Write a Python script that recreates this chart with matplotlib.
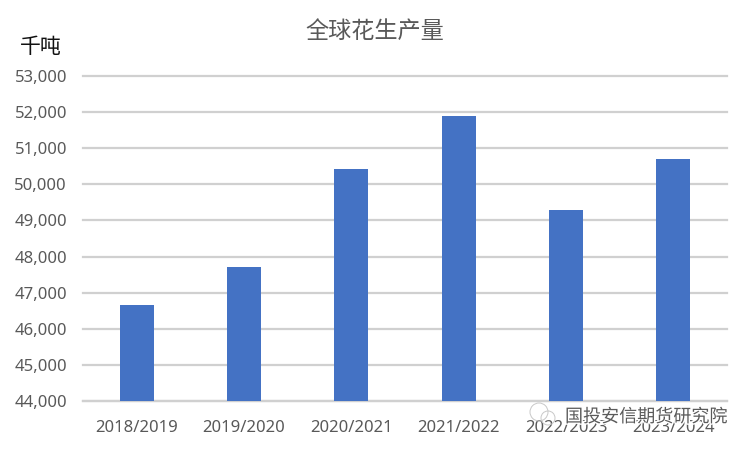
import matplotlib.pyplot as plt
import matplotlib.patheffects as pe
from matplotlib.patches import Ellipse

plt.rcParams['font.family'] = ['Noto Sans CJK SC', 'DejaVu Sans']

years = ['2018/2019', '2019/2020', '2020/2021', '2021/2022', '2022/2023', '2023/2024']
output = [46670, 47700, 50430, 51900, 49300, 50700]
yticks = [44000, 45000, 46000, 47000, 48000, 49000, 50000, 51000, 52000, 53000]

W, H = 750, 450
fig = plt.figure(figsize=(7.5, 4.5), dpi=100)
ax = fig.add_axes([83 / W, 1 - 401 / H, 644 / W, 325 / H])

ax.bar(range(len(years)), output, width=0.315, color='#4472C4', zorder=3)
ax.set_xlim(-0.5, 5.5)
ax.set_ylim(44000, 53000)
ax.set_yticks(yticks)
ax.set_yticklabels([f'{v:,}' for v in yticks])
ax.set_xticks(range(len(years)))
ax.set_xticklabels(years)
ax.tick_params(axis='both', length=0, labelsize=12, labelcolor='#595959')
ax.tick_params(axis='x', pad=13.5)
ax.tick_params(axis='y', pad=11.5)
ax.grid(axis='y', color='#D0D0D0', linewidth=1.6, zorder=0, clip_on=False)
for s in ['top', 'right', 'left']:
    ax.spines[s].set_visible(False)
ax.spines['bottom'].set_color('#D0D0D0')
ax.spines['bottom'].set_linewidth(1.6)
for lab in ax.get_yticklabels() + ax.get_xticklabels():
    lab.set_fontfamily(['Noto Sans', 'DejaVu Sans'])

fig.text(375 / W, 1 - 31 / H, '全球花生产量', fontsize=16.7, color='#595959', ha='center', va='center')
fig.text(41 / W, 1 - 47 / H, '千吨', fontsize=15, color='#111111', ha='center', va='center')

# watermark over the last tick labels
halo = [pe.withStroke(linewidth=2, foreground='white')]
fig.text(646 / W, 1 - 417 / H, '国投安信期货研究院', fontsize=13, color='#5A5A5A',
         ha='center', va='center', path_effects=halo, zorder=10)
for cx, cy, r in [(539, 412, 9), (548, 418, 7)]:
    fig.add_artist(Ellipse((cx / W, 1 - cy / H), 2 * r / W, 2 * r / H, transform=fig.transFigure,
                           facecolor='none', edgecolor='#C8C8C8', linewidth=0.7, zorder=9))

fig.savefig('out.png', dpi=100)
